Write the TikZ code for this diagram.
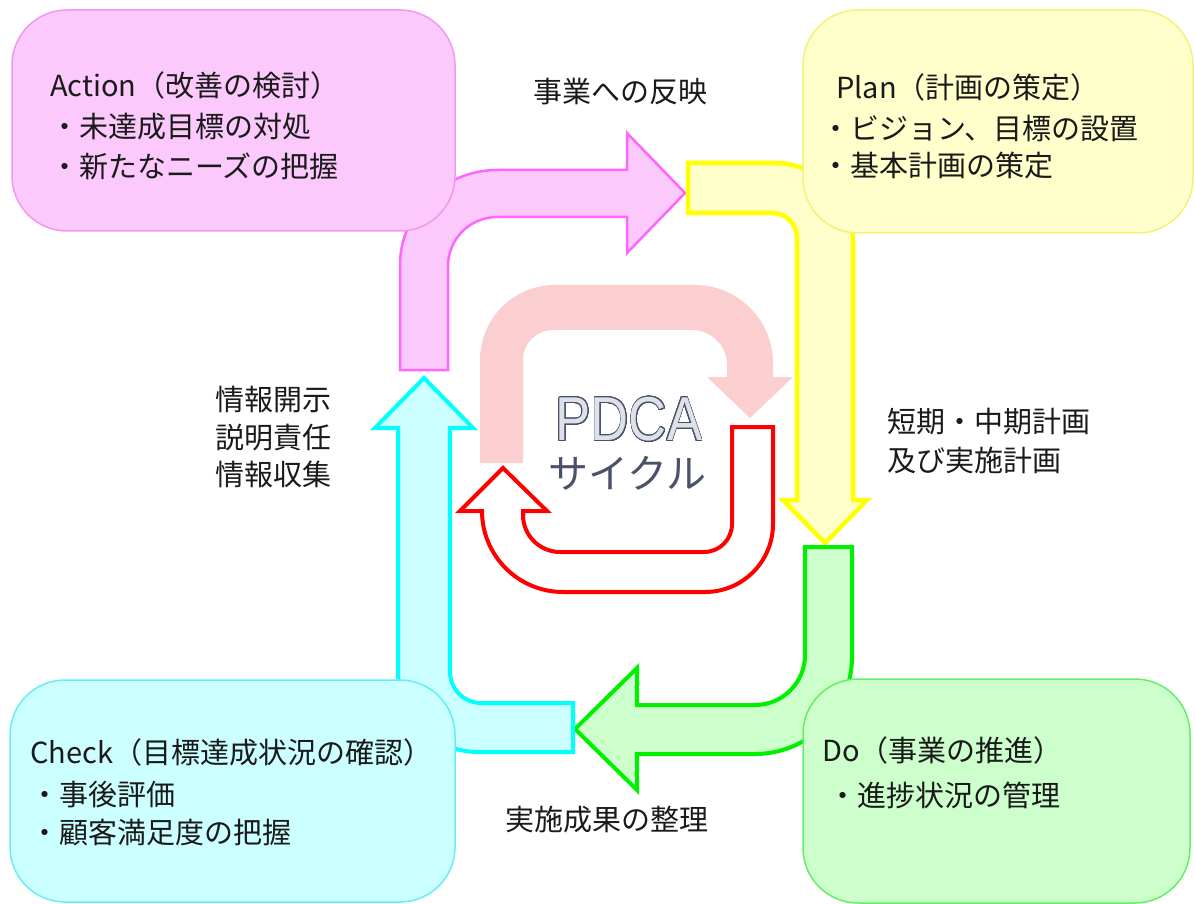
\documentclass[tikz,border=0pt]{standalone}
\usepackage{fontspec}
\usepackage{contour}
\newfontfamily\jp{Noto Sans CJK JP}
\newfontfamily\lat{Liberation Sans}
\definecolor{pinkfill}{HTML}{FBC9FB}
\definecolor{pinkline}{HTML}{FF66FF}
\definecolor{pinkbox}{HTML}{EE99EE}
\definecolor{yelfill}{HTML}{FFFFCC}
\definecolor{yelline}{HTML}{FFFF00}
\definecolor{yelbox}{HTML}{F2F27A}
\definecolor{cyanfill}{HTML}{CCFFFF}
\definecolor{cyanline}{HTML}{00FFFF}
\definecolor{cyanbox}{HTML}{66EEF5}
\definecolor{grnfill}{HTML}{CCFFCC}
\definecolor{grnline}{HTML}{00F000}
\definecolor{grnbox}{HTML}{66EE66}
\definecolor{salmon}{HTML}{FBCFCF}
\definecolor{redline}{HTML}{FF0000}
\definecolor{txt}{HTML}{1A1A1A}
\definecolor{slate}{HTML}{4A5268}
\definecolor{slatelight}{HTML}{DDE1EA}
\contourlength{1.1pt}
\contournumber{32}
\tikzset{
  cbox/.style={rounded corners=55pt, line width=1.5pt, inner sep=0pt},
  lbl/.style={font=\jp\fontsize{29pt}{34pt}\selectfont, text=txt, inner sep=0pt, anchor=west},
  bigarrow/.style={line width=4.5pt, line join=miter},
}
\begin{document}
\begin{tikzpicture}[x=1pt,y=-1pt]
\useasboundingbox (0,0) rectangle (1195,904);

% PDCA salmon arrow
\fill[salmon] (480,463) -- (480,360) .. controls (480,318.6) and (513.6,285) .. (555,285)
  -- (695,285) .. controls (738,285) and (773,320) .. (773,363)
  -- (773,377) -- (793,377) -- (750,418) -- (707,377) -- (727,377) -- (727,365)
  .. controls (727,345.7) and (711.3,330) .. (692,330)
  -- (553,330) .. controls (536.4,330) and (523,343.4) .. (523,360) -- (523,463) -- cycle;

% red outline arrow
\draw[redline, fill=white, line width=4pt, line join=miter] (732,427) -- (773,427) -- (773,524)
  .. controls (773,561.6) and (742.6,592) .. (705,592)
  -- (563,592) .. controls (518.3,592) and (482,555.7) .. (482,511)
  -- (460,511) -- (503,468) -- (547,511) -- (523,511) -- (523,515)
  .. controls (523,535.4) and (539.6,552) .. (560,552)
  -- (704,552) .. controls (719.5,552) and (732,539.5) .. (732,524) -- cycle;

% pink arrow (Action -> Plan)
\draw[pinkline, fill=pinkfill, line width=2.5pt, line join=miter] (400,370) -- (400,265)
  .. controls (400,212.5) and (444.5,170) .. (497,170)
  -- (627,170) -- (627,133) -- (685,193) -- (627,253) -- (627,217) -- (497,217)
  .. controls (470,217) and (448,239) .. (448,266) -- (448,370) -- cycle;

% yellow arrow (Plan -> Do)
\draw[yelline, fill=yelfill, bigarrow] (688,163) -- (775,163)
  .. controls (818,163) and (853,198) .. (853,241)
  -- (853,500) -- (867,500) -- (825,543) -- (783,500) -- (797,500) -- (797,238)
  .. controls (797,224) and (786,213) .. (772,213) -- (688,213) -- cycle;

% green arrow (Do -> Check)
\draw[grnline, fill=grnfill, line width=4pt, line join=miter] (805,547) -- (852,547) -- (852,657)
  .. controls (852,710.6) and (808.6,754) .. (755,754)
  -- (637,754) -- (637,790) -- (575,729) -- (637,668) -- (637,705) -- (755,705)
  .. controls (782.6,705) and (805,682.6) .. (805,655) -- cycle;

% cyan arrow (Check -> Action)
\draw[cyanline, fill=cyanfill, line width=4pt, line join=miter] (573,752) -- (478,752)
  .. controls (434,752) and (398,716) .. (398,672)
  -- (398,428) -- (375,428) -- (424,378) -- (473,428) -- (450,428) -- (450,672)
  .. controls (450,689) and (464,703) .. (481,703) -- (573,703) -- cycle;

% boxes
\node[cbox, draw=pinkbox, fill=pinkfill, minimum width=443pt, minimum height=221pt] (act) at (233.5,120.5) {};
\node[cbox, draw=yelbox, fill=yelfill, minimum width=390pt, minimum height=223pt] (plan) at (998,121.5) {};
\node[cbox, draw=cyanbox, fill=cyanfill, minimum width=445pt, minimum height=222pt] (chk) at (232.5,791) {};
\node[cbox, draw=grnbox, fill=grnfill, minimum width=387pt, minimum height=224pt] (do) at (996.5,791) {};

% box texts
\node[lbl] (a1) at (50,85) {Action（改善の検討）};
\node[lbl] (a2) at (50,127) {・未達成目標の対処};
\node[lbl] (a3) at (50,166) {・新たなニーズの把握};

\node[lbl] (p1) at (836,87) {Plan（計画の策定）};
\node[lbl] (p2) at (821,128) {・ビジョン、目標の設置};
\node[lbl] (p3) at (821,165) {・基本計画の策定};

\node[lbl] (c1) at (30,752) {Check（目標達成状況の確認）};
\node[lbl] (c2) at (30,795) {・事後評価};
\node[lbl] (c3) at (30,833) {・顧客満足度の把握};

\node[lbl] (d1) at (822,750) {Do（事業の推進）};
\node[lbl] (d2) at (828,795) {・進捗状況の管理};

% arrow labels
\node[lbl] (l1) at (533,92) {事業への反映};
\node[lbl] (l2) at (887,422) {短期・中期計画};
\node[lbl] (l3) at (887,460) {及び実施計画};
\node[lbl] (l4) at (215,400) {情報開示};
\node[lbl] (l5) at (215,438) {説明責任};
\node[lbl] (l6) at (215,474) {情報収集};
\node[lbl] (l7) at (505,820) {実施成果の整理};

% center title
\node[inner sep=0pt, text=slatelight, font=\lat\fontsize{62pt}{70pt}\selectfont] (pdca) at (629,420) {\scalebox{0.85}[1]{\contour{slate}{PDCA}}};
\node[inner sep=0pt, text=slate, font=\jp\fontsize{40pt}{46pt}\selectfont] (cyc) at (627,473) {サイクル};
\end{tikzpicture}
\end{document}
